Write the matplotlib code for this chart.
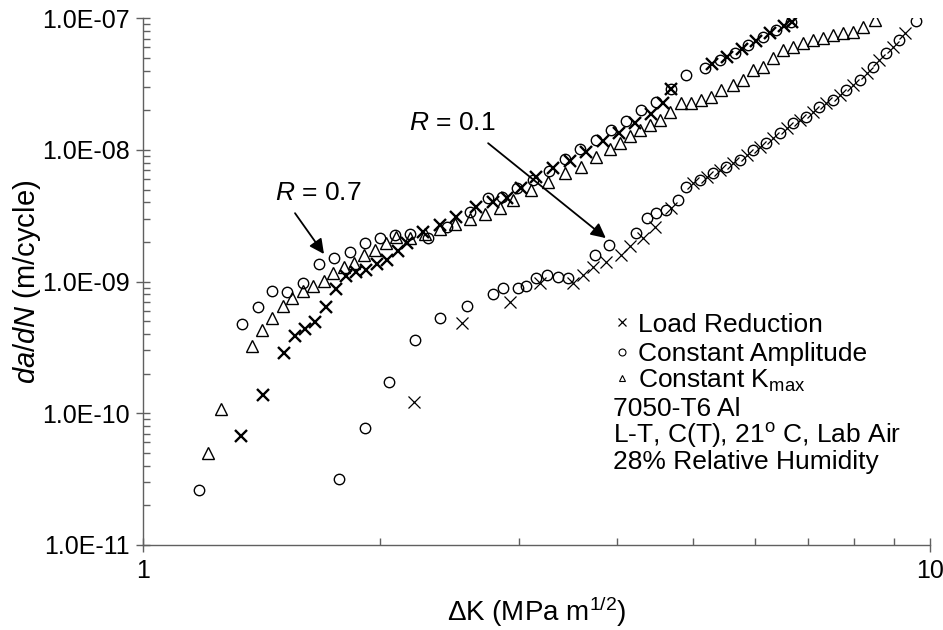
import numpy as np
import matplotlib
matplotlib.use('Agg')
import matplotlib.pyplot as plt
from matplotlib.lines import Line2D
from matplotlib.ticker import FixedLocator, LogLocator, FuncFormatter, NullFormatter

plt.rcParams['font.family'] = ['Liberation Sans', 'DejaVu Sans']
plt.rcParams['mathtext.fontset'] = 'custom'
plt.rcParams['mathtext.rm'] = 'Liberation Sans'
plt.rcParams['mathtext.it'] = 'Liberation Sans:italic'

# R = 0.7, load reduction
dk_lr_07 = [1.330, 1.420, 1.510, 1.557, 1.607, 1.655, 1.707, 1.759, 1.811, 1.865,
            1.920, 1.980, 2.040, 2.105, 2.165, 2.269, 2.382, 2.501, 2.652, 2.785,
            2.896, 3.02, 3.161, 3.319, 3.485, 3.660, 3.842, 4.022, 4.215, 4.426,
            4.579, 4.693, 5.281, 5.516, 5.764, 6.005, 6.256, 6.518, 6.674]
dadn_lr_07 = [6.76e-11, 1.37e-10, 2.86e-10, 3.87e-10, 4.35e-10, 4.97e-10, 6.37e-10, 8.77e-10, 1.10e-9, 1.19e-9,
              1.23e-9, 1.35e-9, 1.46e-9, 1.70e-9, 1.96e-9, 2.40e-9, 2.69e-9, 3.12e-9, 3.71e-9, 4.05e-9,
              4.32e-9, 5.15e-9, 6.27e-9, 7.26e-9, 8.18e-9, 9.66e-9, 1.16e-8, 1.34e-8, 1.60e-8, 1.88e-8,
              2.28e-8, 2.89e-8, 4.50e-8, 5.08e-8, 5.85e-8, 6.73e-8, 7.73e-8, 8.74e-8, 9.37e-8]

# R = 0.7, constant amplitude
dk_ca_07 = [1.176, 1.334, 1.398, 1.458, 1.525, 1.596, 1.671, 1.747, 1.830, 1.913,
            2.0, 2.088, 2.183, 2.30, 2.43, 2.60, 2.742, 2.854, 2.985, 3.13,
            3.278, 3.435, 3.588, 3.760, 3.937, 4.105, 4.298, 4.491, 4.693, 4.903,
            5.172, 5.404, 5.647, 5.872, 6.135, 6.38, 6.668]
dadn_ca_07 = [2.62e-11, 4.77e-10, 6.43e-10, 8.47e-10, 8.38e-10, 9.72e-10, 1.355e-9, 1.50e-9, 1.68e-9, 1.97e-9,
              2.15e-9, 2.26e-9, 2.30e-9, 2.15e-9, 2.62e-9, 3.38e-9, 4.32e-9, 4.40e-9, 5.14e-9, 5.92e-9,
              6.93e-9, 8.47e-9, 1.01e-8, 1.19e-8, 1.42e-8, 1.66e-8, 2.0e-8, 2.33e-8, 2.89e-8, 3.71e-8,
              4.17e-8, 4.82e-8, 5.42e-8, 6.27e-8, 7.25e-8, 8.15e-8, 9.42e-8]

# R = 0.7, constant Kmax
dk_km_07 = [1.209, 1.254, 1.374, 1.415, 1.458, 1.503, 1.547, 1.596, 1.643, 1.695,
            1.744, 1.799, 1.855, 1.910, 1.968, 2.032, 2.094, 2.183, 2.28, 2.382,
            2.489, 2.60, 2.718, 2.839, 2.952, 3.115, 3.271, 3.435, 3.598, 3.760,
            3.917, 4.034, 4.154, 4.277, 4.404, 4.534, 4.677, 4.823, 4.976, 5.124,
            5.276, 5.433, 5.619, 5.786, 5.958, 6.135, 6.317, 6.504, 6.698, 6.897,
            7.10, 7.31, 7.53, 7.753, 7.984, 8.22, 8.506]
dadn_km_07 = [4.98e-11, 1.074e-10, 3.22e-10, 4.30e-10, 5.27e-10, 6.50e-10, 7.48e-10, 8.50e-10, 9.31e-10, 1.007e-9,
              1.16e-9, 1.28e-9, 1.38e-9, 1.58e-9, 1.74e-9, 1.96e-9, 2.17e-9, 2.15e-9, 2.30e-9, 2.51e-9,
              2.74e-9, 2.99e-9, 3.27e-9, 3.63e-9, 4.17e-9, 4.97e-9, 5.71e-9, 6.65e-9, 7.46e-9, 8.77e-9,
              1.02e-8, 1.12e-8, 1.28e-8, 1.42e-8, 1.55e-8, 1.69e-8, 1.95e-8, 2.26e-8, 2.26e-8, 2.40e-8,
              2.54e-8, 2.86e-8, 3.11e-8, 3.40e-8, 4.05e-8, 4.29e-8, 4.97e-8, 5.74e-8, 6.09e-8, 6.46e-8,
              6.84e-8, 7.05e-8, 7.47e-8, 7.69e-8, 7.91e-8, 8.64e-8, 9.7e-8]

# R = 0.1, load reduction
dk_lr_01 = [2.208, 2.544, 2.924, 3.192, 3.519, 3.623, 3.731, 3.880, 4.054, 4.154,
            4.318, 4.468, 4.693, 4.995, 5.203, 5.404, 5.614, 5.849, 6.076, 6.311,
            6.575, 6.830, 7.096, 7.39, 7.68, 7.975, 8.31, 8.63, 8.97, 9.31]
dadn_lr_01 = [1.21e-10, 4.83e-10, 6.95e-10, 9.72e-10, 9.72e-10, 1.125e-9, 1.29e-9, 1.42e-9, 1.60e-9, 1.85e-9,
              2.14e-9, 2.62e-9, 3.61e-9, 5.62e-9, 6.24e-9, 7.05e-9, 7.96e-9, 9.16e-9, 1.054e-8, 1.23e-8,
              1.47e-8, 1.69e-8, 1.94e-8, 2.28e-8, 2.62e-8, 3.11e-8, 3.85e-8, 4.82e-8, 6.05e-8, 7.73e-8]

# R = 0.1, constant amplitude
dk_ca_01 = [1.773, 1.913, 2.054, 2.214, 2.382, 2.576, 2.780, 2.864, 2.998, 3.070,
            3.155, 3.256, 3.368, 3.467, 3.750, 3.906, 4.237, 4.363, 4.491, 4.625,
            4.784, 4.903, 5.099, 5.302, 5.511, 5.730, 5.958, 6.197, 6.442, 6.698,
            6.966, 7.24, 7.53, 7.83, 8.14, 8.465, 8.80, 9.15, 9.6]
dadn_ca_01 = [3.16e-11, 7.71e-11, 1.72e-10, 3.61e-10, 5.33e-10, 6.57e-10, 8.07e-10, 8.87e-10, 8.96e-10, 9.2e-10,
              1.057e-9, 1.125e-9, 1.09e-9, 1.06e-9, 1.60e-9, 1.90e-9, 2.33e-9, 3.03e-9, 3.31e-9, 3.50e-9,
              4.17e-9, 5.26e-9, 5.92e-9, 6.65e-9, 7.47e-9, 8.40e-9, 1.0e-8, 1.12e-8, 1.34e-8, 1.60e-8,
              1.79e-8, 2.13e-8, 2.40e-8, 2.86e-8, 3.40e-8, 4.29e-8, 5.42e-8, 6.84e-8, 9.6e-8]

x_ticks = [1, 10]
y_ticks = [1e-11, 1e-10, 1e-9, 1e-8, 1e-7]
legend_labels = ['Load Reduction', 'Constant Amplitude', r'Constant K$_{\mathrm{max}}$']
note_lines = ['7050-T6 Al', r'L-T, C(T), 21$^{\mathrm{o}}$ C, Lab Air', '28% Relative Humidity']

FS = 19
W, H = 943, 630

fig = plt.figure(figsize=(9.43, 6.30), dpi=100)
ax = fig.add_axes([0.152, 0.135, 0.834, 0.836])

circ = dict(marker='o', ms=7.5, mfc='none', mec='black', mew=1.0, ls='none')
tri = dict(marker='^', ms=8, mfc='none', mec='black', mew=1.0, ls='none')

ax.plot(dk_ca_07, dadn_ca_07, **circ)
ax.plot(dk_km_07, dadn_km_07, **tri)
ax.plot(dk_lr_07, dadn_lr_07, marker='x', ms=8.5, mec='black', mew=1.7, ls='none')
ax.plot(dk_ca_01, dadn_ca_01, **circ)
ax.plot(dk_lr_01, dadn_lr_01, marker='x', ms=8, mec='black', mew=0.9, ls='none')

ax.set_xscale('log')
ax.set_yscale('log')
ax.set_xlim(1, 10)
ax.set_ylim(1e-11, 1e-7)

for s in ['top', 'right']:
    ax.spines[s].set_visible(False)
for s in ['left', 'bottom']:
    ax.spines[s].set_color('#606060')
    ax.spines[s].set_linewidth(1.0)

ax.xaxis.set_major_locator(FixedLocator(x_ticks))
ax.xaxis.set_minor_locator(LogLocator(base=10, subs=np.arange(2, 10)))
ax.xaxis.set_minor_formatter(NullFormatter())
ax.xaxis.set_major_formatter(FuncFormatter(lambda v, p: f'{v:g}'))
ax.yaxis.set_major_locator(FixedLocator(y_ticks))
ax.yaxis.set_minor_locator(LogLocator(base=10, subs=np.arange(2, 10)))
ax.yaxis.set_minor_formatter(NullFormatter())
ax.yaxis.set_major_formatter(FuncFormatter(lambda v, p: f'{v:.1E}'))

ax.tick_params(which='major', direction='inout', length=10, width=1, color='#606060',
               labelsize=18, pad=5)
ax.tick_params(which='minor', direction='in', length=5, width=1, color='#606060')

ax.set_xlabel(r'ΔK (MPa m$^{1/2}$)', fontsize=20)
ax.xaxis.set_label_coords(0.5, -0.095)
ax.set_ylabel(r'$\mathit{da/dN}$ (m/cycle)', fontsize=21)
ax.yaxis.set_label_coords(-0.127, 0.5)

arrow = dict(arrowstyle='-|>', color='black', lw=1.3, mutation_scale=22, shrinkA=0, shrinkB=0)
ax.text(1.667, 4.72e-9, r'$\mathit{R}$ = 0.7', fontsize=FS, ha='center', va='center')
ax.annotate('', xy=(1.697, 1.62e-9), xytext=(1.559, 3.31e-9), arrowprops=arrow)
ax.text(2.471, 1.60e-8, r'$\mathit{R}$ = 0.1', fontsize=FS, ha='center', va='center')
ax.annotate('', xy=(3.873, 2.14e-9), xytext=(2.744, 1.125e-8), arrowprops=arrow)

# legend block drawn by hand so the rows sit like the original
legend_markers = [dict(marker='x', ms=5.5, mec='black', mew=0.9),
                  dict(marker='o', ms=5, mfc='none', mec='black', mew=0.8),
                  dict(marker='^', ms=5, mfc='none', mec='black', mew=0.8)]
legend_rows = [322, 352, 378]
for lab, mk, yrow in zip(legend_labels, legend_markers, legend_rows):
    fig.add_artist(Line2D([622 / W], [1 - yrow / H], transform=fig.transFigure, ls='none', **mk))
    fig.text(638 / W, 1 - (yrow + 9.5) / H, lab, fontsize=FS, va='baseline')

for txt, yrow in zip(note_lines, [406, 433, 459]):
    fig.text(613 / W, 1 - (yrow + 9.5) / H, txt, fontsize=FS, va='baseline')

fig.savefig('out.png', dpi=100)
